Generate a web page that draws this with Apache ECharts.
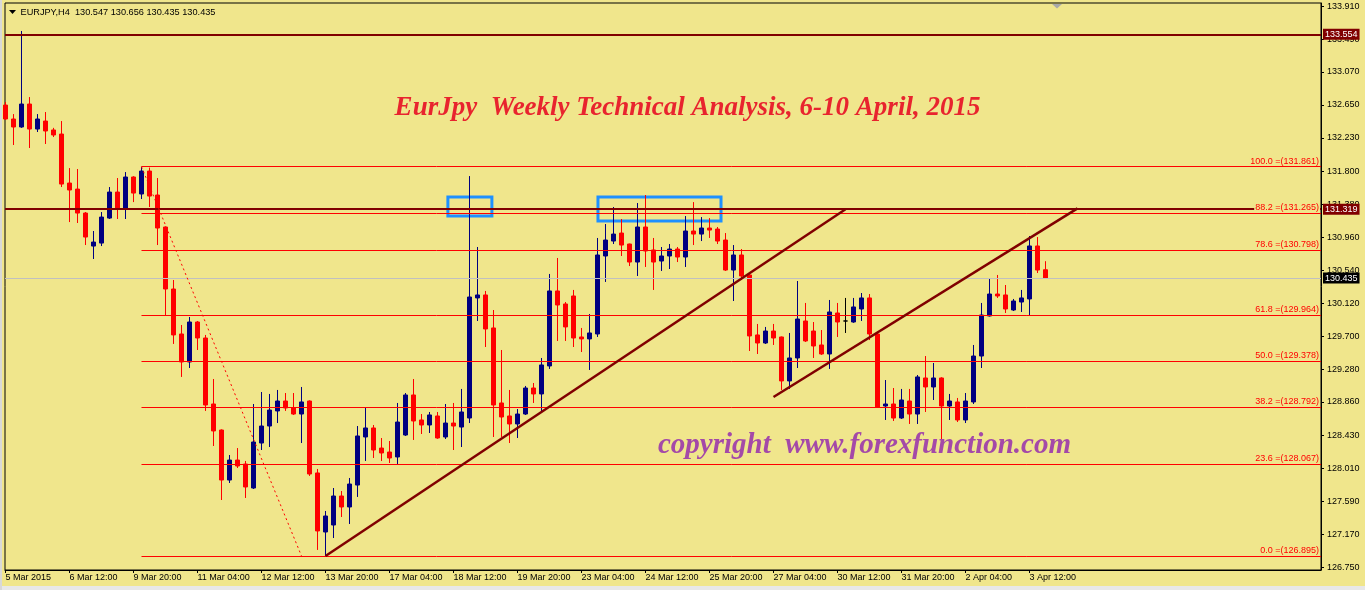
<!DOCTYPE html>
<html><head><meta charset="utf-8">
<script src="https://cdn.jsdelivr.net/npm/echarts@6/dist/echarts.min.js"></script>
<style>html,body{margin:0;padding:0;background:#F0E68C;overflow:hidden}#c{width:1365px;height:590px}</style>
</head><body><div id="c"></div>
<script>
const headerText = 'EURJPY,H4  130.547 130.656 130.435 130.435';
const titleText = 'EurJpy  Weekly Technical Analysis, 6-10 April, 2015';
const copyrightText = 'copyright  www.forexfunction.com';
const xTickIndex = [0,8,16,24,32,40,48,56,64,72,80,88,96,104,112,120,128];
const xTickLabels = ['5 Mar 2015','6 Mar 12:00','9 Mar 20:00','11 Mar 04:00','12 Mar 12:00','13 Mar 20:00','17 Mar 04:00','18 Mar 12:00','19 Mar 20:00','23 Mar 04:00','24 Mar 12:00','25 Mar 20:00','27 Mar 04:00','30 Mar 12:00','31 Mar 20:00','2 Apr 04:00','3 Apr 12:00'];
const yTickValues = [126.750,127.170,127.590,128.010,128.430,128.860,129.280,129.700,130.120,130.540,130.960,131.380,131.800,132.230,132.650,133.070,133.490,133.910];
// [open, close, low, high]
const ohlc = [
[132.648,132.470,132.457,132.686],[132.470,132.368,132.138,132.533],[132.368,132.661,132.357,133.593],[132.661,132.342,132.100,132.750],
[132.342,132.470,132.304,132.533],[132.444,132.317,132.151,132.559],[132.330,132.266,132.240,132.357],[132.278,131.640,131.602,132.444],
[131.653,131.564,131.155,131.844],[131.576,131.270,131.143,131.832],[131.270,130.964,130.862,131.283],[130.849,130.900,130.684,131.041],
[130.887,131.219,130.849,131.283],[131.206,131.538,131.194,131.602],[131.538,131.321,131.194,131.717],[131.321,131.730,131.194,131.793],
[131.730,131.525,131.410,131.740],[131.513,131.806,131.449,131.861],[131.806,131.487,131.347,131.850],[131.500,131.079,130.862,131.717],
[131.092,130.301,129.957,131.100],[130.301,129.715,129.600,130.416],[129.727,129.370,129.179,129.842],[129.370,129.880,129.293,129.944],
[129.880,129.676,129.523,129.893],[129.676,128.821,128.745,129.715],[128.834,128.490,128.298,129.153],[128.502,127.864,127.609,128.510],
[127.864,128.119,127.826,128.183],[128.119,128.043,128.017,128.272],[128.068,127.775,127.635,128.107],[127.762,128.349,127.750,128.834],
[128.336,128.553,128.247,128.987],[128.553,128.757,128.285,128.962],[128.745,128.872,128.591,129.013],[128.872,128.783,128.745,128.974],
[128.783,128.706,128.694,128.974],[128.706,128.860,128.336,129.051],[128.872,127.941,127.916,128.880],[127.954,127.214,126.972,128.005],
[127.201,127.405,126.895,127.469],[127.290,127.660,127.124,127.762],[127.660,127.520,127.392,127.724],[127.520,127.813,127.303,127.890],
[127.800,128.426,127.648,128.553],[128.413,128.528,128.107,128.783],[128.528,128.247,128.145,128.566],[128.272,128.209,128.107,128.400],
[128.221,128.145,128.081,128.362],[128.158,128.604,128.068,128.847],[128.438,128.949,128.426,128.974],[128.949,128.617,128.375,129.153],
[128.630,128.566,128.451,128.706],[128.566,128.694,128.464,128.732],[128.681,128.400,128.390,128.732],[128.413,128.591,128.387,128.834],
[128.591,128.553,128.247,128.847],[128.540,128.732,128.285,129.026],[128.655,130.199,128.591,131.742],[130.187,130.225,129.893,130.837],
[130.225,129.791,129.561,130.276],[129.804,128.821,128.413,130.033],[128.847,128.668,128.413,129.523],[128.681,128.579,128.336,129.013],
[128.579,128.706,128.400,128.770],[128.706,129.038,128.694,129.064],[129.038,128.962,128.847,129.102],[128.962,129.332,128.732,129.421],
[129.319,130.276,129.281,130.493],[130.276,130.097,129.638,130.697],[130.110,129.817,129.638,130.135],[130.212,129.676,129.561,130.289],
[129.689,129.664,129.497,129.804],[129.664,129.740,129.268,129.982],[129.727,130.735,129.689,130.952],[130.722,130.926,130.391,131.130],
[130.913,131.002,130.875,131.347],[131.015,130.862,130.722,131.194],[130.875,130.645,130.594,130.880],[130.645,131.092,130.467,131.398],
[131.092,130.786,130.582,131.500],[130.799,130.645,130.289,130.952],[130.658,130.722,130.531,130.837],[130.722,130.811,130.556,130.875],
[130.811,130.709,130.645,130.837],[130.709,131.041,130.582,131.232],[131.041,131.002,130.862,131.410],[131.002,131.079,130.913,131.219],
[131.079,131.053,130.952,131.206],[131.066,130.913,130.875,131.092],[130.926,130.543,130.531,131.015],[130.543,130.735,130.148,130.862],
[130.735,130.467,130.416,130.811],[130.480,129.702,129.510,130.490],[129.715,129.612,129.472,129.855],[129.612,129.765,129.600,129.817],
[129.765,129.676,129.587,129.855],[129.689,129.128,129.013,129.695],[129.128,129.421,129.026,129.740],[129.421,129.918,129.293,130.403],
[129.893,129.638,129.625,130.123],[129.765,129.574,129.421,129.880],[129.587,129.472,129.460,129.778],[129.472,130.008,129.281,130.161],
[129.995,129.880,129.689,130.123],[129.893,129.893,129.740,130.187],[129.880,130.072,129.870,130.187],[130.046,130.187,129.893,130.250],
[130.187,129.727,129.650,130.237],[129.727,128.796,128.783,129.740],[128.808,128.834,128.630,129.140],[128.834,128.655,128.617,129.038],
[128.655,128.885,128.643,129.026],[128.872,128.706,128.579,129.026],[128.706,129.179,128.579,129.204],[129.166,129.051,128.732,129.446],
[129.051,129.166,128.885,129.357],[129.166,128.808,128.387,129.175],[128.808,128.872,128.630,128.962],[128.860,128.630,128.604,128.911],
[128.630,128.872,128.591,128.974],[128.860,129.446,128.834,129.587],[129.446,129.969,129.293,130.123],[129.957,130.237,129.950,130.429],
[130.237,130.212,130.187,130.480],[130.225,130.046,129.995,130.352],[130.033,130.148,130.021,130.174],[130.135,130.187,130.008,130.289],
[130.174,130.850,129.964,130.977],[130.850,130.543,130.505,130.964],[130.547,130.435,130.435,130.656]
];
const fibPercents = ['0.0','23.6','38.2','50.0','61.8','78.6','88.2','100.0'];
const fibLevels = [126.895,128.067,128.792,129.378,129.964,130.798,131.265,131.861];
const fibStartIndex = 17;
const fibTrend = [[17,131.861],[37,126.895]];
const resistanceLevels = [133.554,131.319];
const bidPrice = 130.435;
const trendLines = [[[40,126.895],[105,131.319]],[[96,128.923],[134,131.330]]];
const boxes = [[[55.3,131.474],[60.8,131.232]],[[74.06,131.474],[89.44,131.168]]];

const X_MIN = -0.0625, X_MAX = 164.44;
const FONT = 'Liberation Sans';
const BG = '#F0E68C';
const FIB_RED = '#FF0000';

const chart = echarts.init(document.getElementById('c'));
const option = {
  backgroundColor: BG,
  animation: false,
  grid: {left:5, right:44, top:3, bottom:20, show:true, borderColor:'#000', borderWidth:1, backgroundColor:BG},
  xAxis: {
    type:'value', min:X_MIN, max:X_MAX,
    axisLine:{show:true, onZero:false, lineStyle:{color:'#000', width:1}},
    splitLine:{show:false},
    axisTick:{show:true, length:3, customValues:xTickIndex, lineStyle:{color:'#000'}},
    axisLabel:{customValues:xTickIndex, formatter:function(v){return xTickLabels[xTickIndex.indexOf(Math.round(v))];},
      align:'left', margin:3, fontFamily:FONT, fontSize:9, color:'#000'}
  },
  yAxis: {
    type:'value', position:'right', min:126.716, max:133.950,
    axisLine:{show:true, onZero:false, lineStyle:{color:'#000', width:1}},
    splitLine:{show:false},
    axisTick:{show:true, length:3, customValues:yTickValues, lineStyle:{color:'#000'}},
    axisLabel:{customValues:yTickValues, formatter:function(v){return v.toFixed(3);}, margin:6, fontFamily:FONT, fontSize:9, color:'#000'}
  },
  series: [
    {
      type:'candlestick', z:2, barWidth:5,
      data: ohlc.map(function(d,i){return [i,d[0],d[1],d[2],d[3]];}),
      itemStyle:{color:'#000080', color0:'#FF0000', borderColor:'#000080', borderColor0:'#FF0000', borderColorDoji:'#000000', borderWidth:1}
    },
    {
      type:'line', data:[], z:3, clip:false, silent:true, color:'#800000',
      markLine:{symbol:['none','none'], silent:true, animation:false,
        lineStyle:{color:'#800000', width:2, type:'solid'},
        data: resistanceLevels.map(function(v){return {yAxis:v,
          label:{show:true, position:'end', formatter:v.toFixed(3), backgroundColor:'#800000', color:'#fff', padding:[1,2,1,2], distance:2, fontFamily:FONT, fontSize:9}};})
          .concat([{yAxis:bidPrice, lineStyle:{color:'#C0C0C0', width:1, type:'solid'},
          label:{show:true, position:'end', formatter:bidPrice.toFixed(3), backgroundColor:'#000', color:'#fff', padding:[1,2,1,2], distance:2, fontFamily:FONT, fontSize:9}}])
      }
    },
    {
      type:'line', data:[], z:4, clip:false, silent:true, color:FIB_RED,
      markLine:{symbol:['none','none'], silent:true, animation:false,
        lineStyle:{color:FIB_RED, width:1, type:'solid', opacity:1},
        label:{show:true, position:'insideEndTop', distance:1, color:FIB_RED, fontFamily:FONT, fontSize:9, backgroundColor:BG, padding:[0,1,0,1]},
        data: fibLevels.map(function(v,k){return [
          {coord:[fibStartIndex,v], label:{formatter:fibPercents[k]+' =('+v.toFixed(3)+')'}},
          {coord:[X_MAX,v]}];}).concat([[
          {coord:fibTrend[0], lineStyle:{color:FIB_RED, width:1, type:[2,3]}, label:{show:false}},
          {coord:fibTrend[1], lineStyle:{color:FIB_RED, width:1, type:[2,3]}, label:{show:false}}]])
      }
    },
    {
      type:'line', data:[], z:5, clip:false, silent:true, color:'#800000',
      markLine:{symbol:['none','none'], silent:true, animation:false,
        lineStyle:{color:'#800000', width:2.5, type:'solid'}, label:{show:false},
        data: trendLines.map(function(t){return [{coord:t[0]},{coord:t[1]}];})
      },
      markArea:{silent:true,
        itemStyle:{color:'rgba(0,0,0,0)', borderColor:'#1E90FF', borderWidth:3},
        data: boxes.map(function(b){return [{coord:b[0]},{coord:b[1]}];})
      }
    }
  ],
  graphic: [
    {type:'polygon', z:10, shape:{points:[[9,10],[16,10],[12.5,14]]}, style:{fill:'#000'}},
    {type:'text', z:10, x:20.5, y:12, style:{text:headerText, font:'9.2px "Liberation Sans"', fill:'#000', verticalAlign:'middle'}},
    {type:'polygon', z:10, shape:{points:[[1052,4],[1062,4],[1057,8.5]]}, style:{fill:'#A8A8A8'}},
    {type:'text', z:10, x:687.5, y:108, style:{text:titleText, font:'italic bold 27px "Liberation Serif"', fill:'#E8242E', align:'center', verticalAlign:'middle'}},
    {type:'text', z:10, x:864.5, y:446, style:{text:copyrightText, font:'italic bold 29px "Liberation Serif"', fill:'#A449A8', align:'center', verticalAlign:'middle'}},
    {type:'rect', z:10, shape:{x:0, y:586, width:1365, height:4}, style:{fill:'#E8E8E8'}},
    {type:'rect', z:10, shape:{x:0, y:0, width:2, height:590}, style:{fill:'#D8D8D8'}}
  ]
};
chart.setOption(option);
</script></body></html>
